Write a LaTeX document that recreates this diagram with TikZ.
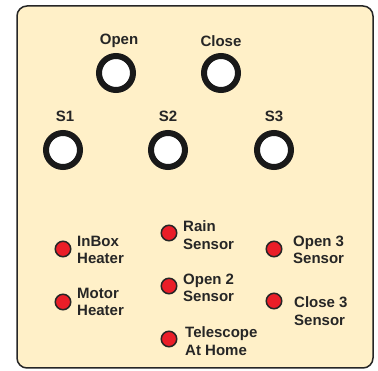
\documentclass[tikz,border=0pt]{standalone}
\usepackage{fontspec}
\setmainfont{Liberation Sans}
\usetikzlibrary{positioning}
\definecolor{panelfill}{RGB}{255,240,200}
\definecolor{ledred}{RGB}{234,30,40}
\tikzset{
  button/.style={circle, draw=black!90, line width=6pt, fill=white, minimum size=34pt, inner sep=0pt},
  led/.style={circle, draw=black!85, line width=1.5pt, fill=ledred, minimum size=15.5pt, inner sep=0pt},
  caption/.style={font=\bfseries\fontsize{15}{17.5}\selectfont, align=left, inner sep=0pt, text=black!85},
}

\begin{document}
\begin{tikzpicture}[x=1pt, y=-1pt]
      \useasboundingbox (0,0) rectangle (378,371);
      \draw[line width=1.5pt, draw=black!85, fill=panelfill, rounded corners=10pt] (17,6) rectangle (373,368);
      % buttons
      \node[button] (open) at (116,73) {};
      \node[button] (close) at (221,73) {};
      \node[button] (s1) at (63,150) {};
      \node[button] (s2) at (168,150) {};
      \node[button] (s3) at (274,150) {};
      \node[caption] (openlbl) at (119,41) {Open};
      \node[caption] (closelbl) at (221,41) {Close};
      \node[caption] (s1lbl) at (65,116) {S1};
      \node[caption] (s2lbl) at (168,116) {S2};
      \node[caption] (s3lbl) at (274,116) {S3};
      % leds
      \node[led] (inbox) at (63,249) {};
      \node[led] (motor) at (63,302) {};
      \node[led] (rain) at (169,233) {};
      \node[led] (open2) at (169,286) {};
      \node[led] (home) at (169,339) {};
      \node[led] (open3) at (274,249) {};
      \node[led] (close3) at (274,301) {};
      \node[caption, anchor=west] (inboxlbl) at (77,250) {InBox\\Heater};
      \node[caption, anchor=west] (motorlbl) at (77,302) {Motor\\Heater};
      \node[caption, anchor=west] (rainlbl) at (183,235) {Rain\\Sensor};
      \node[caption, anchor=west] (open2lbl) at (183,288) {Open 2\\Sensor};
      \node[caption, anchor=west] (homelbl) at (185,341) {Telescope\\At Home};
      \node[caption, anchor=west] (open3lbl) at (293,250) {Open 3\\Sensor};
      \node[caption, anchor=west] (close3lbl) at (294,311) {Close 3\\Sensor};
\end{tikzpicture}
\end{document}
